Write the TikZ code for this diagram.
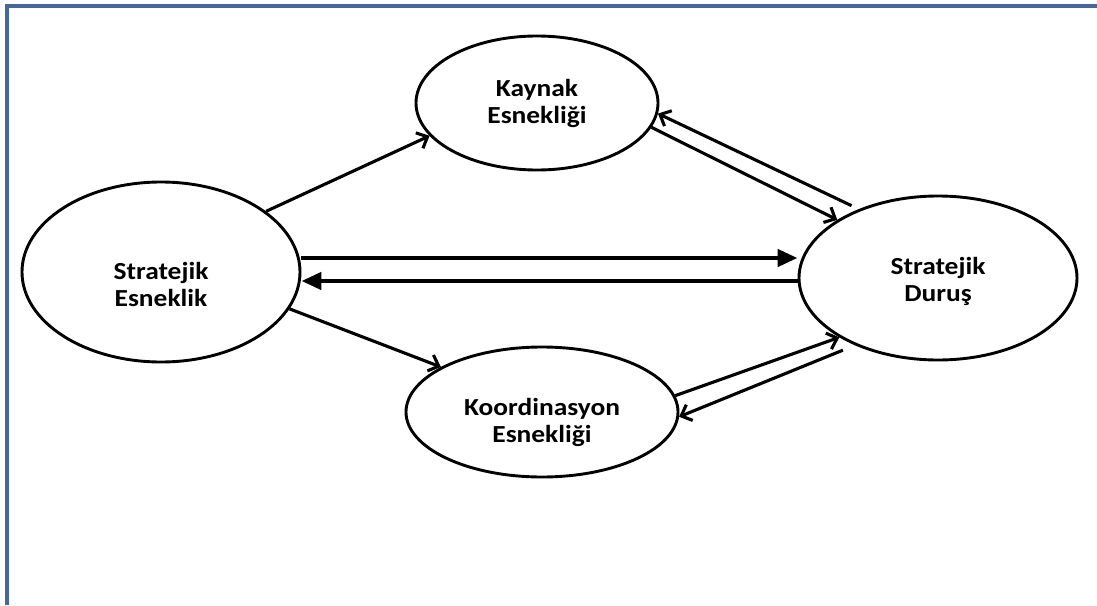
\documentclass[tikz,border=0pt]{standalone}
\usepackage{fontspec}
\setmainfont{Carlito}
\newfontfamily\lblfont[FakeStretch=1.12]{Carlito}
\usetikzlibrary{arrows.meta,shapes.geometric}
\definecolor{framecol}{RGB}{68,104,152}
\begin{document}
\begin{tikzpicture}[x=1pt,y=-1pt]
  \tikzstyle{bubble}=[draw, ellipse, line width=2.9pt, inner sep=0pt]
  \tikzstyle{lbl}=[font=\lblfont\fontsize{24.5}{27}\selectfont\bfseries, align=center]
  \tikzstyle{link}=[line width=3.1pt, -{Straight Barb[length=9pt,width=17pt]}]
  \tikzstyle{mainlink}=[line width=4.6pt, -{Triangle[length=20pt,width=17pt]}]

  \useasboundingbox (0,0) rectangle (1097,605);
  \draw[framecol, line width=3.8pt] (7,605) -- (7,6) -- (1097,6);

  \node[bubble, minimum width=278pt, minimum height=180pt] (se) at (161,272) {};
  \node[bubble, minimum width=242pt, minimum height=134pt] (ke) at (537,103) {};
  \node[bubble, minimum width=272pt, minimum height=130pt] (ko) at (542,412) {};
  \node[bubble, minimum width=278pt, minimum height=164pt] (sd) at (938,278) {};

  \node[lbl] (se-txt) at (161,284) {Stratejik\\Esneklik};
  \node[lbl] (ke-txt) at (537,103) {Kaynak\\Esnekliği};
  \node[lbl] (ko-txt) at (542,422) {Koordinasyon\\Esnekliği};
  \node[lbl] (sd-txt) at (938,281) {Stratejik\\Duruş};

  \draw[link] (se.30) -- (ke.197);
  \draw[link] (ke.-12) -- (sd.150);
  \draw[link, shorten <=8pt] (sd.139) -- (ke.-5);
  \draw[mainlink] ([yshift=14pt]se.east) -- ([yshift=20pt]sd.west);
  \draw[mainlink] ([yshift=-3pt]sd.west) -- ([yshift=-9pt]se.east);
  \draw[link] (se.-16) -- (ko.156);
  \draw[link] (ko.7) -- (sd.211);
  \draw[link, shorten <=13pt] (sd.219) -- (ko.-2);
\end{tikzpicture}
\end{document}
